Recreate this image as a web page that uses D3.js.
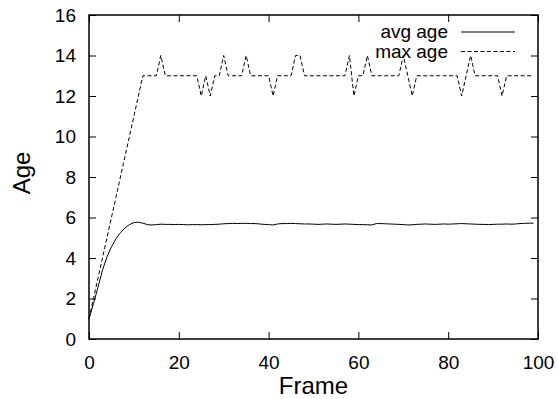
<!DOCTYPE html>
<html>
<head>
<meta charset="utf-8">
<script src="https://cdnjs.cloudflare.com/ajax/libs/d3/7.8.5/d3.min.js"></script>
<style>
  body { margin: 0; background: #fff; }
  svg { display: block; font-family: "Liberation Sans", Arial, sans-serif; }
</style>
</head>
<body>
<svg class="chart" width="558" height="399"></svg>
<script>
// frame numbers 0..99
const frames = d3.range(0, 100);

const avgAge = [
  1.0, 1.75, 2.55, 3.4, 4.05, 4.55, 4.95, 5.25, 5.48, 5.65,
  5.75, 5.77, 5.72, 5.65, 5.63, 5.65, 5.67, 5.66, 5.66, 5.65,
  5.66, 5.65, 5.64, 5.65, 5.65, 5.64, 5.65, 5.65, 5.66, 5.67,
  5.69, 5.70, 5.71, 5.70, 5.71, 5.71, 5.70, 5.70, 5.68, 5.66,
  5.65, 5.63, 5.68, 5.70, 5.70, 5.71, 5.70, 5.69, 5.68, 5.68,
  5.67, 5.66, 5.67, 5.68, 5.67, 5.66, 5.67, 5.68, 5.67, 5.66,
  5.65, 5.65, 5.64, 5.63, 5.70, 5.70, 5.69, 5.68, 5.67, 5.66,
  5.65, 5.63, 5.64, 5.66, 5.67, 5.68, 5.67, 5.66, 5.67, 5.68,
  5.67, 5.68, 5.69, 5.70, 5.69, 5.68, 5.67, 5.66, 5.66, 5.65,
  5.66, 5.67, 5.67, 5.68, 5.67, 5.68, 5.70, 5.71, 5.72, 5.72
];

const maxAge = [
  1, 2, 3, 4, 5, 6, 7, 8, 9, 10,
  11, 12, 13, 13, 13, 13, 14, 13, 13, 13,
  13, 13, 13, 13, 13, 12, 13, 12, 13, 13,
  14, 13, 13, 13, 13, 14, 13, 13, 13, 13,
  13, 12, 13, 13, 13, 13, 14, 14, 13, 13,
  13, 13, 13, 13, 13, 13, 13, 13, 14, 12,
  13, 13, 14, 13, 13, 13, 13, 13, 13, 13,
  14, 13, 12, 13, 13, 13, 13, 13, 13, 13,
  13, 13, 13, 12, 13, 14, 13, 13, 13, 13,
  13, 13, 12, 13, 13, 13, 13, 13, 13, 13
];

const xTicks = [0, 20, 40, 60, 80, 100];
const yTicks = [0, 2, 4, 6, 8, 10, 12, 14, 16];

const seriesNames = ["avg age", "max age"];

const svg = d3.select("svg.chart");
const margin = { top: 15, right: 20, bottom: 60, left: 89 };
const width = +svg.attr("width") - margin.left - margin.right;
const height = +svg.attr("height") - margin.top - margin.bottom;
const g = svg.append("g").attr("transform", `translate(${margin.left}, ${margin.top})`);

const x = d3.scaleLinear().domain([0, 100]).range([0, width]);
const y = d3.scaleLinear().domain([0, 16]).range([height, 0]);

const tickLen = 7;

// axes with inward ticks, mirrored on top/right
const xAxis = g.append("g")
    .attr("transform", `translate(0, ${height})`)
    .call(d3.axisBottom(x).tickValues(xTicks).tickSize(-tickLen).tickPadding(tickLen + 10));
const yAxis = g.append("g")
    .call(d3.axisLeft(y).tickValues(yTicks).tickSize(-tickLen).tickPadding(tickLen + 6));
const xTop = g.append("g")
    .call(d3.axisTop(x).tickValues(xTicks).tickSize(-tickLen).tickFormat(""));
const yRight = g.append("g")
    .attr("transform", `translate(${width}, 0)`)
    .call(d3.axisRight(y).tickValues(yTicks).tickSize(-tickLen).tickFormat(""));

[xAxis, yAxis, xTop, yRight].forEach(a => {
    a.select(".domain").remove();
    a.selectAll(".tick line").attr("stroke", "#000").attr("stroke-width", 1);
    a.selectAll(".tick text").attr("fill", "#000").style("font-size", "19px");
});

// frame border
g.append("rect")
    .attr("width", width)
    .attr("height", height)
    .attr("fill", "none")
    .attr("stroke", "#000")
    .attr("stroke-width", 1.5);

const line = (vals) => d3.line()
    .x((d, i) => x(frames[i]))
    .y(d => y(d))(vals);

g.append("path")
    .attr("d", line(avgAge))
    .attr("fill", "none")
    .attr("stroke", "#000")
    .attr("stroke-width", 1);

g.append("path")
    .attr("d", line(maxAge))
    .attr("fill", "none")
    .attr("stroke", "#000")
    .attr("stroke-width", 1)
    .attr("stroke-dasharray", "4,2.5");

// legend
const legend = g.append("g").attr("transform", `translate(${width}, 0)`);
seriesNames.forEach((name, i) => {
    const ly = 17 + i * 19.5;
    legend.append("text")
        .attr("x", -90)
        .attr("y", ly + 6)
        .attr("text-anchor", "end")
        .style("font-size", "19px")
        .text(name);
    legend.append("line")
        .attr("x1", -77).attr("x2", -23)
        .attr("y1", ly).attr("y2", ly)
        .attr("stroke", "#000")
        .attr("stroke-width", 1)
        .attr("stroke-dasharray", i === 1 ? "4,2.5" : null);
});

// axis titles
svg.append("text")
    .attr("x", margin.left + width / 2)
    .attr("y", 394)
    .attr("text-anchor", "middle")
    .style("font-size", "24px")
    .text("Frame");

svg.append("text")
    .attr("transform", `translate(30, ${margin.top + height / 2 - 4}) rotate(-90)`)
    .attr("text-anchor", "middle")
    .style("font-size", "24px")
    .text("Age");
</script>
</body>
</html>
